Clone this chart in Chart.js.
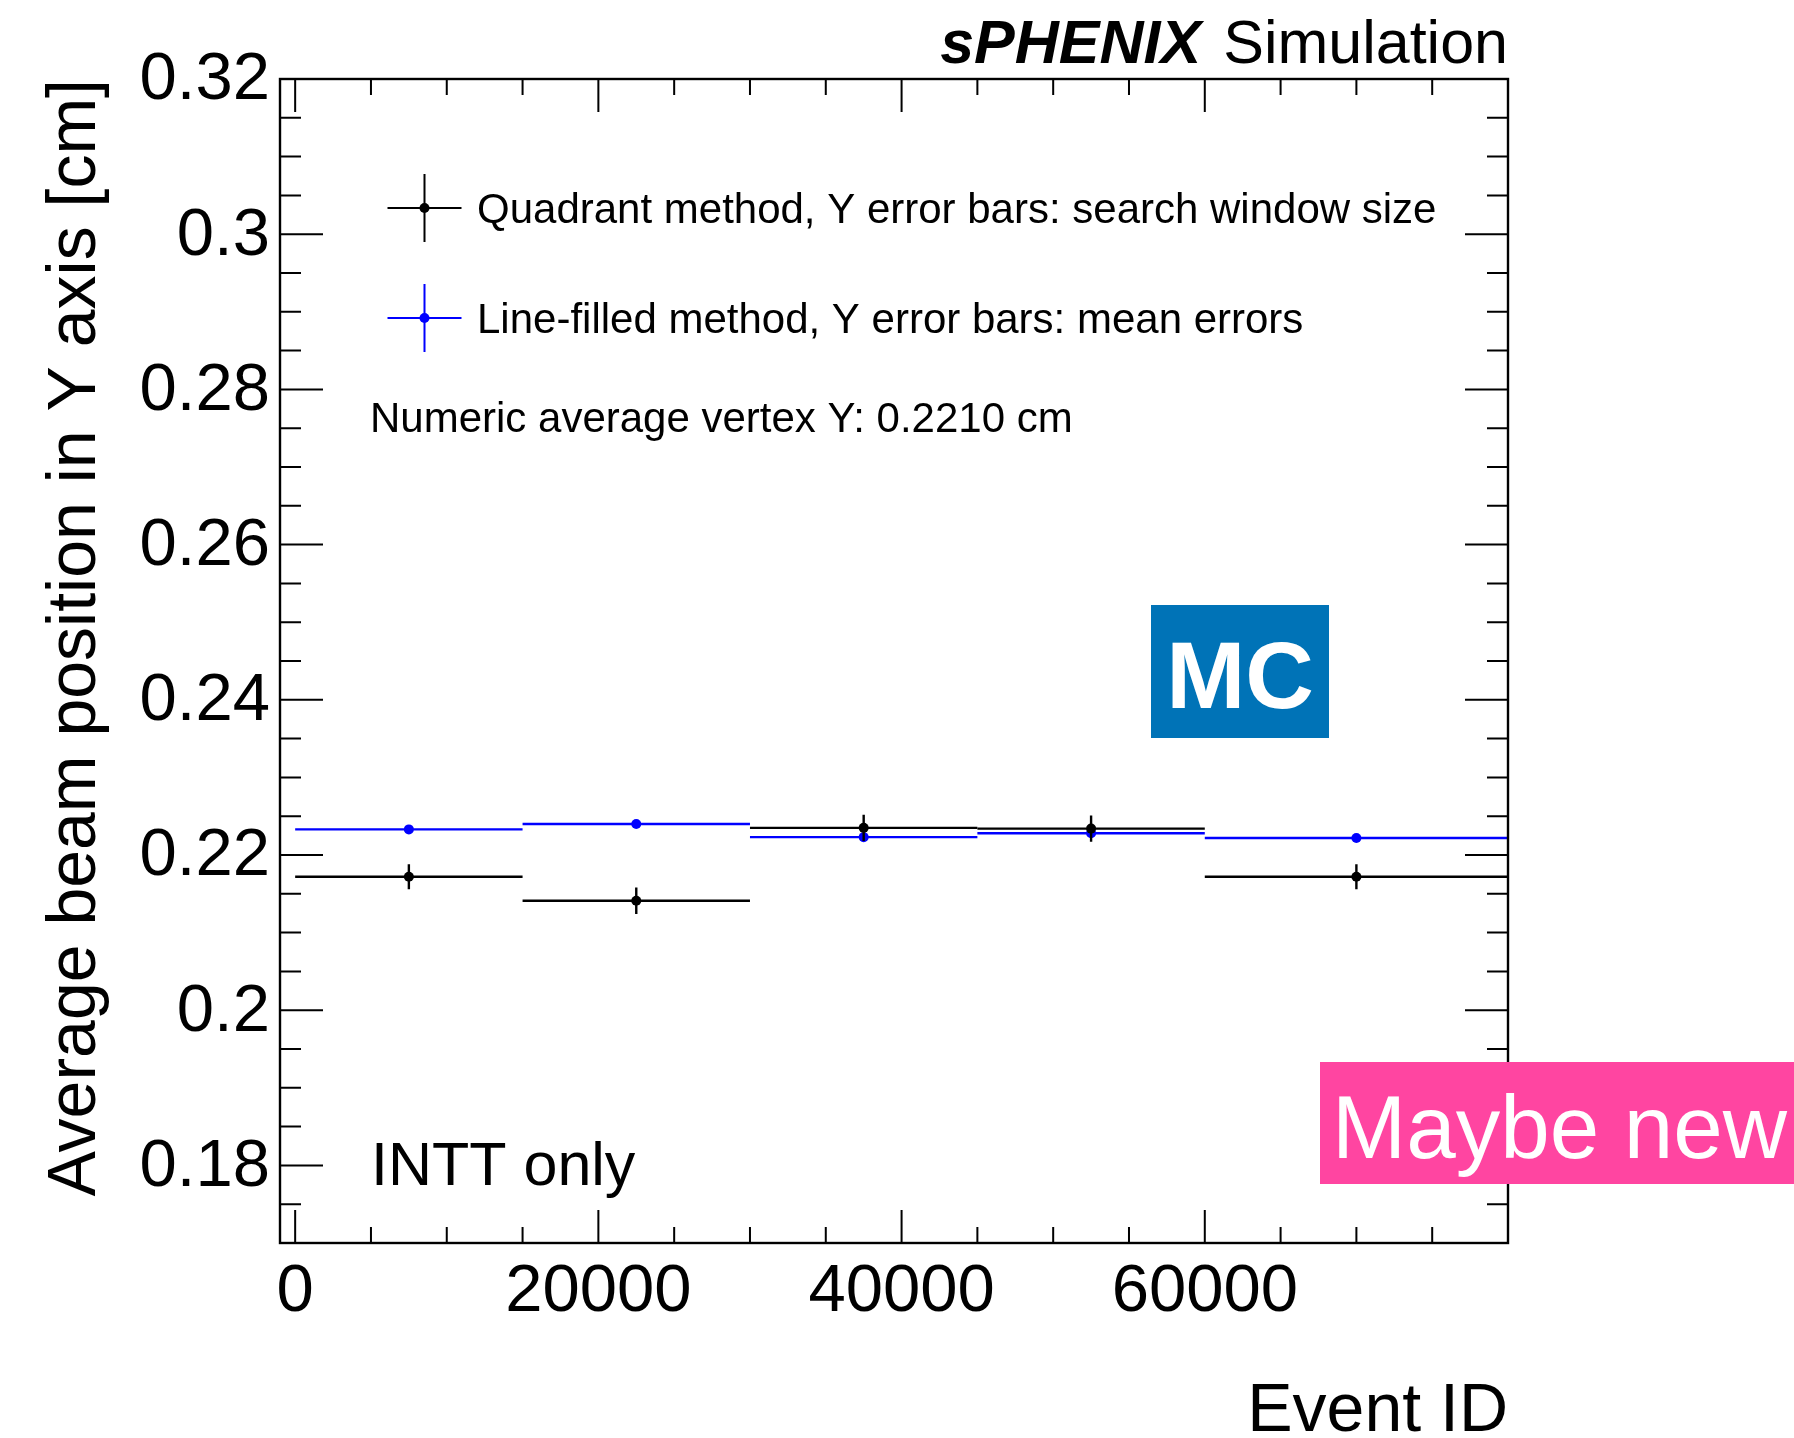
<!DOCTYPE html>
<html>
<head>
<meta charset="utf-8">
<script src="https://cdn.jsdelivr.net/npm/chart.js@4.4.1/dist/chart.umd.min.js"></script>
<style>
html,body{margin:0;padding:0;background:#fff;overflow:hidden;}
#wrap{width:1794px;height:1438px;position:relative;}
canvas{display:block;}
</style>
</head>
<body>
<div id="wrap"><canvas id="c" width="1794" height="1438"></canvas></div>
<script>
// ---------------- data ----------------
const binCenters = [7500, 22500, 37500, 52500, 70000];
const binLow     = [0, 15000, 30000, 45000, 60000];
const binHigh    = [15000, 30000, 45000, 60000, 80000];

const quadrantY      = [0.2172, 0.2141, 0.2235, 0.2234, 0.2172];
const quadrantYErr   = [0.0016, 0.0017, 0.0017, 0.0017, 0.0016];
const lineFilledY    = [0.2233, 0.2240, 0.2223, 0.2228, 0.2222];
const lineFilledYErr = [0.0003, 0.0003, 0.0003, 0.0003, 0.0003];

const seriesLabels = [
  'Quadrant method, Y error bars: search window size',
  'Line-filled method, Y error bars: mean errors'
];

const xTickValues = [0, 20000, 40000, 60000];
const xTickLabels = ['0', '20000', '40000', '60000'];
const yTickValues = [0.18, 0.2, 0.22, 0.24, 0.26, 0.28, 0.3, 0.32];
const yTickLabels = ['0.18', '0.2', '0.22', '0.24', '0.26', '0.28', '0.3', '0.32'];
const xMinorStep = 5000;
const yMinorStep = 0.005;

const xRange = [-1000, 80000];
const yRange = [0.17, 0.32];

const titleBold = 'sPHENIX';
const titleRegular = 'Simulation';
const xTitle = 'Event ID';
const yTitle = 'Average beam position in Y axis [cm]';
const noteAverage = 'Numeric average vertex Y: 0.2210 cm';
const noteDetector = 'INTT only';
const badgeMC = 'MC';
const badgeNew = 'Maybe new';

// ---------------- helpers ----------------
const FONT = "'Liberation Sans', Arial, Helvetica, sans-serif";
Chart.defaults.font.family = FONT;
Chart.defaults.color = '#000';

function makePoints(ys, errs) {
  return binCenters.map((c, i) => ({ x: c, y: ys[i], xMin: binLow[i], xMax: binHigh[i], yErr: errs[i] }));
}

const errorBarPlugin = {
  id: 'errorBars',
  beforeDatasetDraw(chart, args) {
    const ds = chart.data.datasets[args.index];
    const xs = chart.scales.x, ys = chart.scales.y;
    const ctx = chart.ctx;
    ctx.save();
    ctx.strokeStyle = ds.borderColor;
    ctx.lineWidth = 2.4;
    ctx.lineCap = 'butt';
    ds.data.forEach(p => {
      const px = xs.getPixelForValue(p.x);
      const py = ys.getPixelForValue(p.y);
      ctx.beginPath();
      ctx.moveTo(xs.getPixelForValue(p.xMin), py);
      ctx.lineTo(xs.getPixelForValue(p.xMax), py);
      ctx.moveTo(px, ys.getPixelForValue(p.y - p.yErr));
      ctx.lineTo(px, ys.getPixelForValue(p.y + p.yErr));
      ctx.stroke();
    });
    ctx.restore();
  }
};

const framePlugin = {
  id: 'rootFrame',
  afterDatasetsDraw(chart) {
    const ctx = chart.ctx;
    const a = chart.chartArea;
    const xs = chart.scales.x, ys = chart.scales.y;
    ctx.save();
    ctx.strokeStyle = '#000';
    ctx.lineWidth = 2.4;
    ctx.strokeRect(a.left, a.top, a.right - a.left, a.bottom - a.top);
    ctx.lineWidth = 2;
    ctx.beginPath();
    // x ticks (bottom & top)
    const xMajLen = 33, xMinLen = 16;
    for (let v = 0; v < xRange[1] - 1; v += xMinorStep) {
      const px = xs.getPixelForValue(v);
      const len = xTickValues.includes(v) ? xMajLen : xMinLen;
      ctx.moveTo(px, a.bottom); ctx.lineTo(px, a.bottom - len);
      ctx.moveTo(px, a.top); ctx.lineTo(px, a.top + len);
    }
    // y ticks (left & right)
    const yMajLen = 43, yMinLen = 21;
    for (let k = 1; ; k++) {
      const v = +(yRange[0] + k * yMinorStep).toFixed(4);
      if (v > yRange[1] + 1e-9) break;
      const py = ys.getPixelForValue(v);
      const isMaj = yTickValues.some(t => Math.abs(t - v) < 1e-9);
      const len = isMaj ? yMajLen : yMinLen;
      ctx.moveTo(a.left, py); ctx.lineTo(a.left + len, py);
      ctx.moveTo(a.right, py); ctx.lineTo(a.right - len, py);
    }
    ctx.stroke();
    ctx.restore();
  },
  afterDraw(chart) {
    const ctx = chart.ctx;
    const a = chart.chartArea;
    ctx.save();
    ctx.fillStyle = '#000';
    ctx.textBaseline = 'alphabetic';
    // title
    ctx.font = '61px ' + FONT;
    ctx.textAlign = 'right';
    ctx.fillText(titleRegular, a.right, 63);
    const w = ctx.measureText(titleRegular).width;
    ctx.font = 'italic bold 61px ' + FONT;
    ctx.fillText(titleBold, a.right - w - 22, 63);

    // legend
    const legendY = [208, 318];
    const cx = 424.5;
    chart.data.datasets.forEach((ds, i) => {
      const y = legendY[i];
      ctx.strokeStyle = ds.borderColor;
      ctx.lineWidth = 2;
      ctx.beginPath();
      ctx.moveTo(cx - 37, y); ctx.lineTo(cx + 37, y);
      ctx.moveTo(cx, y - 34); ctx.lineTo(cx, y + 34);
      ctx.stroke();
      ctx.fillStyle = ds.pointBackgroundColor;
      ctx.beginPath(); ctx.arc(cx, y, 5, 0, Math.PI * 2); ctx.fill();
      ctx.fillStyle = '#000';
      ctx.font = '42px ' + FONT;
      ctx.textAlign = 'left';
      ctx.textBaseline = 'middle';
      ctx.fillText(ds.label, 477, y + 3);
    });
    ctx.font = '42px ' + FONT;
    ctx.textAlign = 'left';
    ctx.textBaseline = 'middle';
    ctx.fillText(noteAverage, 370, 420);

    ctx.textBaseline = 'alphabetic';
    ctx.font = '61px ' + FONT;
    ctx.fillText(noteDetector, 371, 1185);

    // MC badge
    ctx.fillStyle = '#0073B7';
    ctx.fillRect(1151, 605, 178, 133);
    ctx.fillStyle = '#fff';
    ctx.font = 'bold 95px ' + FONT;
    ctx.textAlign = 'center';
    ctx.fillText(badgeMC, 1240, 708);

    // pink badge
    ctx.fillStyle = '#FF45A1';
    ctx.fillRect(1320, 1062, 474, 122);
    ctx.fillStyle = '#fff';
    ctx.font = '89px ' + FONT;
    ctx.textAlign = 'left';
    ctx.fillText(badgeNew, 1332, 1158);
    ctx.restore();
  }
};

new Chart(document.getElementById('c'), {
  type: 'scatter',
  data: {
    datasets: [
      {
        label: seriesLabels[0],
        data: makePoints(quadrantY, quadrantYErr),
        borderColor: '#000000',
        backgroundColor: '#000000',
        pointBackgroundColor: '#000000',
        pointBorderWidth: 0,
        pointRadius: 5,
        showLine: false
      },
      {
        label: seriesLabels[1],
        data: makePoints(lineFilledY, lineFilledYErr),
        borderColor: '#0000FF',
        backgroundColor: '#0000FF',
        pointBackgroundColor: '#0000FF',
        pointBorderWidth: 0,
        pointRadius: 5,
        showLine: false
      }
    ]
  },
  options: {
    responsive: false,
    animation: false,
    devicePixelRatio: 1,
    layout: { padding: { top: 79, right: 286, bottom: 0, left: 0 } },
    plugins: { legend: { display: false }, tooltip: { enabled: false } },
    scales: {
      x: {
        type: 'linear',
        position: 'bottom',
        min: xRange[0],
        max: xRange[1],
        grid: { display: false, drawTicks: false },
        border: { display: false },
        afterBuildTicks: s => { s.ticks = xTickValues.map(v => ({ value: v })); },
        afterFit: s => { s.height = 195; },
        ticks: {
          font: { size: 67 },
          color: '#000',
          padding: 9,
          maxRotation: 0,
          autoSkip: false,
          callback: (v) => { const i = xTickValues.indexOf(v); return i >= 0 ? xTickLabels[i] : ''; }
        },
        title: {
          display: true,
          text: xTitle,
          align: 'end',
          color: '#000',
          font: { size: 68, lineHeight: 0.8 },
          padding: { top: 0, bottom: -1 }
        }
      },
      y: {
        type: 'linear',
        position: 'left',
        min: yRange[0],
        max: yRange[1],
        grid: { display: false, drawTicks: false },
        border: { display: false },
        afterBuildTicks: s => { s.ticks = yTickValues.map(v => ({ value: v })); },
        afterFit: s => { s.width = 280; },
        ticks: {
          font: { size: 67 },
          color: '#000',
          padding: 10,
          labelOffset: 2,
          autoSkip: false,
          callback: (v) => { const i = yTickValues.findIndex(t => Math.abs(t - v) < 1e-9); return i >= 0 ? yTickLabels[i] : ''; }
        },
        title: {
          display: true,
          text: yTitle,
          align: 'end',
          color: '#000',
          font: { size: 68, lineHeight: 1.2 },
          padding: { top: 35, bottom: 0 }
        }
      }
    }
  },
  plugins: [errorBarPlugin, framePlugin]
});
</script>
</body>
</html>
